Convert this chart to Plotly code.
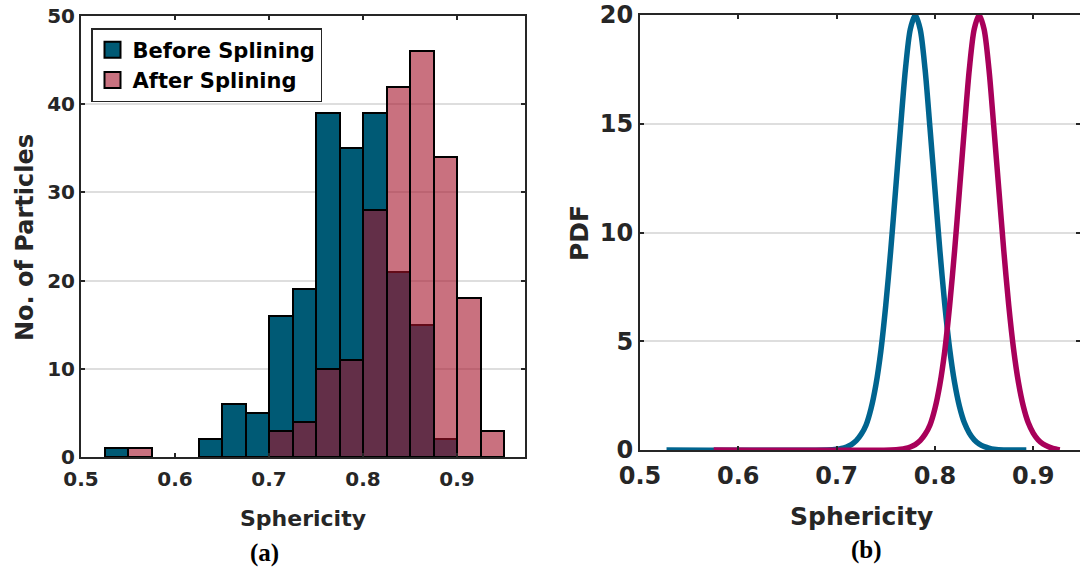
import plotly.graph_objects as go

# ---------------- data: histogram (a) ----------------
bin_width = 0.025
before_centers = [0.5375, 0.6375, 0.6625, 0.6875, 0.7125, 0.7375, 0.7625, 0.7875, 0.8125, 0.8375, 0.8625, 0.8875]
before_counts = [1, 2, 6, 5, 16, 19, 39, 35, 39, 21, 15, 2]
after_centers = [0.5625, 0.7125, 0.7375, 0.7625, 0.7875, 0.8125, 0.8375, 0.8625, 0.8875, 0.9125, 0.9375]
after_counts = [1, 3, 4, 10, 11, 28, 42, 46, 34, 18, 3]

# ---------------- data: PDF curves (b) ----------------
blue_x = [0.527, 0.690, 0.700, 0.705, 0.710, 0.715, 0.720, 0.725, 0.730, 0.735, 0.740, 0.745,
          0.750, 0.755, 0.760, 0.765, 0.770, 0.775, 0.780, 0.785, 0.790, 0.795, 0.800, 0.805,
          0.810, 0.815, 0.820, 0.825, 0.830, 0.835, 0.840, 0.845, 0.850, 0.855, 0.860, 0.870, 0.893]
blue_y = [0.0, 0.0, 0.03, 0.07, 0.14, 0.25, 0.43, 0.72, 1.15, 1.9, 3.0, 4.55,
          6.65, 9.15, 11.95, 14.8, 17.5, 19.35, 20.0, 19.35, 17.5, 14.8, 12.0, 9.2,
          6.7, 4.65, 3.1, 2.0, 1.25, 0.78, 0.47, 0.28, 0.16, 0.09, 0.04, 0.0, 0.0]

pink_x = [0.575, 0.755, 0.765, 0.770, 0.775, 0.780, 0.785, 0.790, 0.795, 0.800, 0.805, 0.810,
          0.815, 0.820, 0.825, 0.830, 0.835, 0.840, 0.845, 0.850, 0.855, 0.860, 0.865, 0.870,
          0.875, 0.880, 0.885, 0.890, 0.895, 0.900, 0.905, 0.910, 0.915, 0.920, 0.927]
pink_y = [0.0, 0.0, 0.03, 0.07, 0.14, 0.25, 0.43, 0.72, 1.15, 1.9, 3.0, 4.55,
          6.65, 9.15, 11.95, 14.8, 17.5, 19.35, 20.0, 19.35, 17.5, 14.8, 12.0, 9.2,
          6.7, 4.65, 3.1, 2.0, 1.25, 0.78, 0.47, 0.28, 0.16, 0.07, 0.0]

x_ticks = [0.5, 0.6, 0.7, 0.8, 0.9]
left_y_ticks = [0, 10, 20, 30, 40, 50]
right_y_ticks = [0, 5, 10, 15, 20]
legend_names = ["Before Splining", "After Splining"]

# ---------------- styling ----------------
W, H = 1080, 572
AX = "#262626"
GRID = "#dedede"
BEFORE = "rgb(0,90,117)"
AFTER = "rgba(165,18,42,0.6)"
AFTER_SWATCH = "rgb(201,114,128)"
BLUE = "#00648f"
PINK = "#a8005a"
SANS = "DejaVu Sans"

fig = go.Figure()

fig.add_trace(go.Bar(x=before_centers, y=before_counts, width=bin_width, showlegend=False,
                     name=legend_names[0], marker=dict(color=BEFORE, line=dict(color="black", width=2)),
                     xaxis="x", yaxis="y"))
fig.add_trace(go.Bar(x=after_centers, y=after_counts, width=bin_width, showlegend=False,
                     name=legend_names[1], marker=dict(color=AFTER, line=dict(color="black", width=2)),
                     xaxis="x", yaxis="y"))

# legend proxies (larger square swatches like the reference)
for name, col in zip(legend_names, [BEFORE, AFTER_SWATCH]):
    fig.add_trace(go.Scatter(x=[None], y=[None], mode="markers", name=name,
                             marker=dict(symbol="square", size=16, color=col, line=dict(color="black", width=2)),
                             xaxis="x", yaxis="y"))

fig.add_trace(go.Scatter(x=blue_x, y=blue_y, mode="lines", line=dict(color=BLUE, width=5.5, shape="spline", smoothing=0.8),
                         showlegend=False, xaxis="x2", yaxis="y2"))
fig.add_trace(go.Scatter(x=pink_x, y=pink_y, mode="lines", line=dict(color=PINK, width=5.5, shape="spline", smoothing=0.8),
                         showlegend=False, xaxis="x2", yaxis="y2"))

def px(x):
    return x / W

def py(y):
    return 1 - y / H

common = dict(showline=True, linecolor=AX, linewidth=2, mirror="ticks", ticks="inside",
              ticklen=4, tickwidth=2, tickcolor=AX, zeroline=False, automargin=False)

left_font = dict(family=SANS, size=20, color=AX, weight="bold")
right_font = dict(family=SANS, size=24, color=AX, weight="bold")

fig.update_layout(
    width=W, height=H,
    margin=dict(l=0, r=0, t=0, b=0),
    paper_bgcolor="white", plot_bgcolor="white",
    barmode="overlay", bargap=0,
    xaxis=dict(domain=[px(81), px(525)], range=[0.5, 0.9723], tickvals=x_ticks, tickformat=".1f",
               showgrid=False, tickfont=left_font, anchor="y", ticklabelstandoff=3, **common),
    yaxis=dict(domain=[py(457), py(16)], range=[0, 50], tickvals=left_y_ticks,
               showgrid=True, gridcolor=GRID, gridwidth=2, tickfont=left_font, anchor="x", **common),
    xaxis2=dict(domain=[px(640), 1.0], range=[0.5, 0.9476], tickvals=x_ticks, tickformat=".1f",
                showgrid=False, tickfont=right_font, anchor="y2", ticklabelstandoff=3, **common),
    yaxis2=dict(domain=[py(450), py(15)], range=[0, 20], tickvals=right_y_ticks,
                showgrid=True, gridcolor=GRID, gridwidth=2, tickfont=right_font, anchor="x2", **common),
    legend=dict(x=px(91), y=py(28), xanchor="left", yanchor="top", bgcolor="white",
                bordercolor=AX, borderwidth=1.5, font=dict(family=SANS, size=21, color="black", weight="bold"),
                tracegroupgap=0, itemsizing="trace"),
    showlegend=True,
)

ann = [
    dict(text="No. of Particles", x=px(25), y=py(238), textangle=-90,
         font=dict(family=SANS, size=24, color=AX, weight="bold")),
    dict(text="Sphericity", x=px(303), y=py(518), font=dict(family=SANS, size=22, color=AX, weight="bold")),
    dict(text="(a)", x=px(264), y=py(553), font=dict(family="Liberation Serif", size=25, color="black", weight="bold")),
    dict(text="PDF", x=px(580), y=py(233), textangle=-90, font=dict(family=SANS, size=25, color=AX, weight="bold")),
    dict(text="Sphericity", x=px(861), y=py(516), font=dict(family=SANS, size=25, color=AX, weight="bold")),
    dict(text="(b)", x=px(866), y=py(550), font=dict(family="Liberation Serif", size=25, color="black", weight="bold")),
]
for a in ann:
    fig.add_annotation(xref="paper", yref="paper", showarrow=False, xanchor="center", yanchor="middle", **a)

fig.write_html("out.html", config={"displayModeBar": False},
               post_script="document.body.style.margin='0';document.body.style.overflow='hidden';")
